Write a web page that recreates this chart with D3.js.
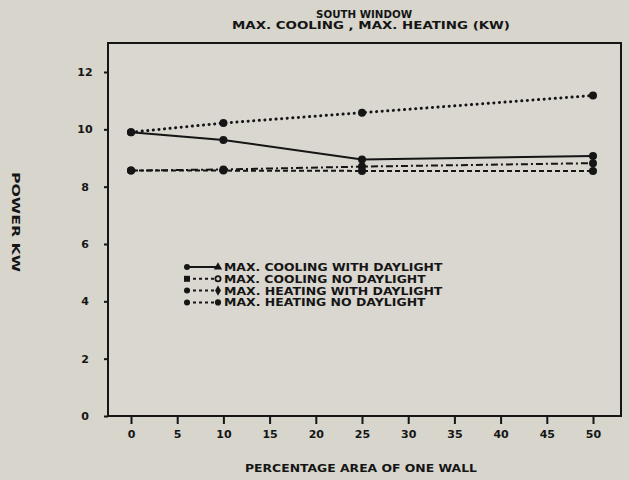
<!DOCTYPE html>
<html>
<head>
<meta charset="utf-8">
<script src="https://cdn.jsdelivr.net/npm/d3@7"></script>
<style>
  body { margin: 0; background: #d7d5cc; }
  svg text { font-family: "DejaVu Sans", sans-serif; font-weight: bold; fill: #151515; }
</style>
</head>
<body>
<div id="chart"></div>
<script>
// * Data
var percentArea = [0, 10, 25, 50];
var coolingWithDaylight = [9.9, 9.63, 8.95, 9.07];
var coolingNoDaylight = [9.9, 10.22, 10.58, 11.18];
var heatingWithDaylight = [8.56, 8.6, 8.7, 8.82];
var heatingNoDaylight = [8.56, 8.56, 8.55, 8.55];
var xTicks = [0, 5, 10, 15, 20, 25, 30, 35, 40, 45, 50];
var yTicks = [0, 2, 4, 6, 8, 10, 12];
var seriesNames = [
  "MAX. COOLING WITH DAYLIGHT",
  "MAX. COOLING NO DAYLIGHT",
  "MAX. HEATING WITH DAYLIGHT",
  "MAX. HEATING NO DAYLIGHT"
];

var width = 629, height = 480;
var ink = "#151515";

var svg = d3.select("#chart").append("svg")
  .attr("width", width)
  .attr("height", height);

svg.append("rect").attr("width", width).attr("height", height).attr("fill", "#d7d5cc");

// * scales
var x = d3.scaleLinear().domain([0, 50]).range([131, 593]);
var y = d3.scaleLinear().domain([0, 12]).range([416, 72]);

// * frame
svg.append("rect")
  .attr("x", 108).attr("y", 43)
  .attr("width", 513).attr("height", 373)
  .attr("fill", "#d9d7cf")
  .attr("stroke", ink).attr("stroke-width", 2);

// * x axis
var xAxis = svg.append("g")
  .attr("transform", "translate(0,416)")
  .call(d3.axisBottom(x).tickValues(xTicks).tickSize(8).tickPadding(6).tickSizeOuter(0));
xAxis.select(".domain").remove();
xAxis.selectAll("line").attr("stroke", ink).attr("stroke-width", 2);
xAxis.selectAll("text").style("font-size", "11px").attr("fill", ink);

// * y axis
var yAxis = svg.append("g")
  .attr("transform", "translate(108,0)")
  .call(d3.axisLeft(y).tickValues(yTicks).tickSize(4).tickPadding(0).tickSizeOuter(0));
yAxis.select(".domain").remove();
yAxis.selectAll("line").attr("stroke", ink).attr("stroke-width", 2);
yAxis.selectAll("text")
  .attr("x", -23)
  .style("text-anchor", "middle")
  .style("font-size", "11px")
  .attr("fill", ink);

// * titles
svg.append("text").attr("x", 364).attr("y", 18)
  .attr("text-anchor", "middle").style("font-size", "11px")
  .attr("textLength", 96).attr("lengthAdjust", "spacingAndGlyphs")
  .text("SOUTH WINDOW");
svg.append("text").attr("x", 371).attr("y", 29)
  .attr("text-anchor", "middle").style("font-size", "10px")
  .attr("textLength", 278).attr("lengthAdjust", "spacingAndGlyphs")
  .text("MAX. COOLING , MAX. HEATING (KW)");

svg.append("text").attr("x", 361).attr("y", 472)
  .attr("text-anchor", "middle").style("font-size", "10px")
  .attr("textLength", 232).attr("lengthAdjust", "spacingAndGlyphs")
  .text("PERCENTAGE AREA OF ONE WALL");

svg.append("text")
  .attr("transform", "translate(12,222) rotate(90)")
  .attr("text-anchor", "middle").style("font-size", "11px")
  .attr("textLength", 100).attr("lengthAdjust", "spacingAndGlyphs")
  .text("POWER KW");

// * series
var series = [
  { name: seriesNames[0], values: coolingWithDaylight, dash: null, end: "triangle" },
  { name: seriesNames[1], values: coolingNoDaylight, dash: "0.1,5.5", end: "open" },
  { name: seriesNames[2], values: heatingWithDaylight, dash: "7,3,2,3", end: "diamond" },
  { name: seriesNames[3], values: heatingNoDaylight, dash: "5,3", end: "circle" }
];

var line = d3.line()
  .x(function (d, i) { return x(percentArea[i]); })
  .y(function (d) { return y(d); });

series.forEach(function (s) {
  var dotted = s.dash === "0.1,5.5";
  svg.append("path")
    .datum(s.values)
    .attr("d", line)
    .attr("fill", "none")
    .attr("stroke", ink)
    .attr("stroke-width", dotted ? 3 : 2)
    .attr("stroke-linecap", dotted ? "round" : "butt")
    .attr("stroke-dasharray", s.dash);

  svg.selectAll(null)
    .data(s.values)
    .enter()
    .append("circle")
    .attr("cx", function (d, i) { return x(percentArea[i]); })
    .attr("cy", function (d) { return y(d); })
    .attr("r", 4)
    .attr("fill", ink);
});

// * legend
var legend = svg.append("g").attr("transform", "translate(187,267)");
series.forEach(function (s, i) {
  var g = legend.append("g").attr("transform", "translate(0," + i * 11.8 + ")");
  g.append("line")
    .attr("x1", 0).attr("x2", 30).attr("y1", 0).attr("y2", 0)
    .attr("stroke", ink).attr("stroke-width", 2)
    .attr("stroke-dasharray", s.dash ? "3,3" : null);
  if (s.end === "open") {
    g.append("rect").attr("x", -3).attr("y", -3).attr("width", 6).attr("height", 6).attr("fill", ink);
    g.append("circle").attr("cx", 31).attr("cy", 0).attr("r", 2.6)
      .attr("fill", "#d9d7cf").attr("stroke", ink).attr("stroke-width", 1.8);
  } else {
    g.append("circle").attr("cx", 0).attr("cy", 0).attr("r", 3).attr("fill", ink);
    g.append("path")
      .attr("transform", "translate(31,0)")
      .attr("d", d3.symbol().type(s.end === "triangle" ? d3.symbolTriangle
        : s.end === "diamond" ? d3.symbolDiamond : d3.symbolCircle).size(30))
      .attr("fill", ink);
  }
  g.append("text")
    .attr("x", 37).attr("y", 4)
    .style("font-size", "10px")
    .attr("textLength", s.name.length * 8.4).attr("lengthAdjust", "spacingAndGlyphs")
    .text(s.name);
});
</script>
</body>
</html>
